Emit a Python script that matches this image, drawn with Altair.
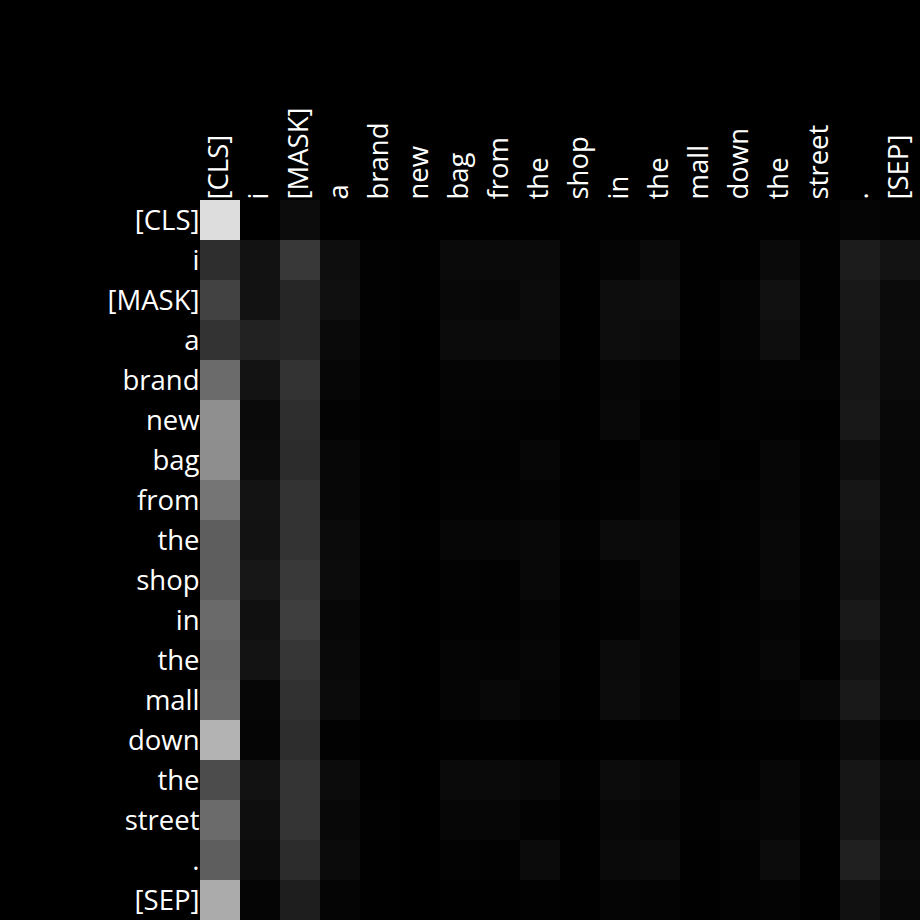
import json
import altair as alt
import pandas as pd

tokens = ["[CLS]", "i", "[MASK]", "a", "brand", "new", "bag", "from", "the",
          "shop", "in", "the", "mall", "down", "the", "street", ".", "[SEP]"]

# attention intensity per row (query) and column (key), 0-255 grey scale
row_cls    = [221, 0, 12, 0, 0, 0, 0, 0, 0, 1, 1, 1, 1, 1, 1, 1, 5, 3]
row_i      = [46, 18, 56, 14, 2, 1, 10, 10, 10, 1, 5, 10, 1, 1, 10, 2, 28, 19]
row_mask   = [66, 18, 38, 16, 2, 1, 8, 7, 12, 1, 13, 14, 1, 5, 17, 2, 24, 11]
row_a      = [51, 34, 38, 10, 2, 0, 11, 11, 11, 1, 13, 12, 1, 5, 14, 2, 23, 12]
row_brand  = [107, 19, 51, 6, 1, 0, 5, 5, 5, 1, 6, 5, 0, 3, 4, 4, 22, 11]
row_new    = [143, 10, 46, 3, 1, 0, 4, 3, 2, 1, 8, 2, 0, 3, 2, 1, 24, 8]
row_bag    = [142, 12, 44, 7, 2, 0, 2, 2, 6, 1, 1, 6, 4, 1, 6, 2, 14, 7]
row_from   = [117, 19, 51, 7, 2, 0, 3, 3, 4, 1, 3, 6, 1, 3, 6, 2, 22, 7]
row_the1   = [94, 18, 51, 11, 2, 1, 6, 6, 8, 3, 11, 10, 2, 3, 8, 2, 20, 8]
row_shop   = [94, 23, 57, 12, 1, 0, 3, 2, 8, 1, 4, 10, 1, 2, 8, 2, 18, 7]
row_in     = [106, 16, 62, 7, 1, 0, 2, 2, 5, 1, 3, 7, 1, 3, 5, 2, 25, 8]
row_the2   = [102, 19, 54, 9, 1, 0, 5, 4, 6, 1, 11, 7, 1, 3, 7, 1, 19, 8]
row_mall   = [105, 6, 49, 11, 1, 0, 5, 8, 5, 1, 12, 7, 0, 3, 4, 8, 25, 9]
row_down   = [179, 5, 45, 2, 0, 0, 1, 1, 0, 0, 1, 1, 0, 1, 1, 1, 12, 3]
row_the3   = [76, 18, 52, 12, 1, 0, 10, 10, 8, 2, 12, 9, 2, 2, 7, 2, 22, 10]
row_street = [107, 14, 52, 8, 2, 0, 6, 6, 3, 1, 8, 6, 2, 5, 6, 2, 22, 8]
row_dot    = [94, 12, 44, 11, 1, 0, 3, 2, 11, 1, 10, 11, 1, 3, 12, 1, 32, 11]
row_sep    = [171, 5, 30, 5, 1, 0, 1, 1, 2, 1, 5, 4, 1, 3, 4, 1, 17, 8]

rows = [row_cls, row_i, row_mask, row_a, row_brand, row_new, row_bag, row_from,
        row_the1, row_shop, row_in, row_the2, row_mall, row_down, row_the3,
        row_street, row_dot, row_sep]

records = []
for r, vals in enumerate(rows):
    for c, v in enumerate(vals):
        records.append({"row": r, "col": c, "v": v})
df = pd.DataFrame(records)

label_expr = json.dumps(tokens) + "[datum.value]"
font = "Open Sans"
fs = 27.5

chart = alt.Chart(df).mark_rect().encode(
    x=alt.X("col:O", axis=alt.Axis(orient="top", title=None, labelAngle=-90,
                                   labelAlign="left", labelBaseline="middle",
                                   labelExpr=label_expr, ticks=False, domain=False,
                                   labelPadding=1, labelColor="white",
                                   labelFontSize=fs, labelFont=font)),
    y=alt.Y("row:O", axis=alt.Axis(title=None, labelExpr=label_expr, ticks=False,
                                   domain=False, labelPadding=1, labelOffset=2,
                                   labelColor="white",
                                   labelFontSize=fs, labelFont=font)),
    color=alt.Color("v:Q", legend=None,
                    scale=alt.Scale(domain=[0, 255], range=["#000000", "#ffffff"],
                                    interpolate="rgb")),
).properties(
    width=720, height=720,
    background="black",
    padding={"left": 200, "top": 200, "right": 0, "bottom": 0},
    autosize=alt.AutoSizeParams(type="none"),
).configure_view(stroke=None)

chart.save("out.html", embed_options={"renderer": "svg", "actions": False})
